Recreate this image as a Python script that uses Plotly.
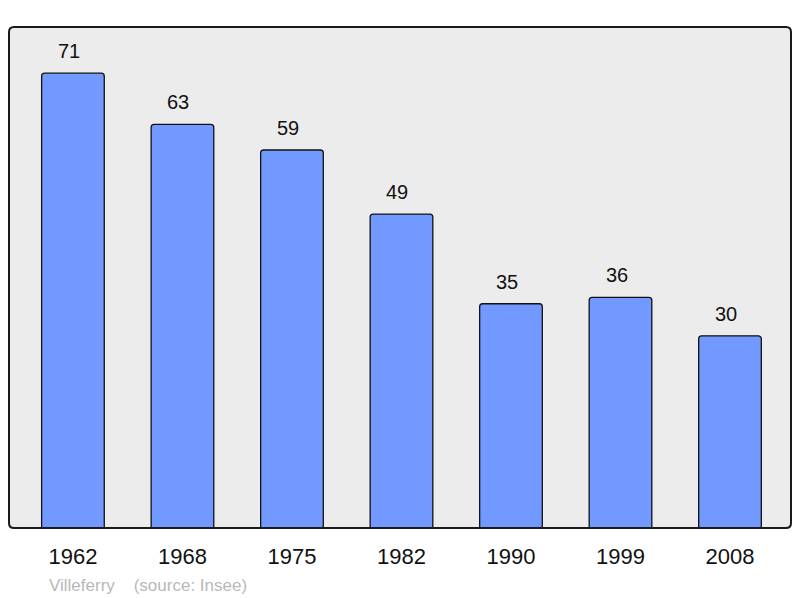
import plotly.graph_objects as go

years = ["1962", "1968", "1975", "1982", "1990", "1999", "2008"]
population = [71, 63, 59, 49, 35, 36, 30]
source_text = "Villeferry    (source: Insee)"

# page has an 8px body margin; figure sized so the plot lands where the reference has it
OFF = 8
W, H = 800 - OFF, 598 - OFF
ml, mr, mt, mb = 9 - OFF, 9, 27 - OFF, 70
FONT = "Liberation Sans, Arial, sans-serif"

fig = go.Figure()
fig.add_trace(go.Bar(
    x=list(range(len(years))), y=population,
    width=0.572,
    marker=dict(color="#7299ff", line=dict(color="#111111", width=1.3), cornerradius=3),
    hoverinfo="skip",
))

for i, v in enumerate(population):
    fig.add_annotation(x=i, y=v, text=str(v), showarrow=False, yshift=22, xshift=-4,
                       font=dict(size=20, color="#111111", family=FONT))

pw, ph = W - ml - mr, H - mt - mb
r = 5
rx, ry = r / pw, r / ph
path = (f"M {rx} 0 L {1-rx} 0 Q 1 0 1 {ry} L 1 {1-ry} Q 1 1 {1-rx} 1 "
        f"L {rx} 1 Q 0 1 0 {1-ry} L 0 {ry} Q 0 0 {rx} 0 Z")
fig.add_shape(type="path", path=path, xref="paper", yref="paper",
              line=dict(color="#1a1a1a", width=2), fillcolor="rgba(0,0,0,0)", layer="above")

fig.add_annotation(x=(47 - 9) / pw, y=(598 - 585 - mb) / ph, xref="paper", yref="paper",
                   text=source_text, showarrow=False, xanchor="left", yanchor="middle",
                   font=dict(size=17, color="#b8b8b8", family=FONT))

fig.update_layout(
    width=W, height=H,
    margin=dict(l=ml, r=mr, t=mt, b=mb),
    paper_bgcolor="white", plot_bgcolor="#ececec",
    showlegend=False,
    font=dict(family=FONT),
    xaxis=dict(range=[-0.584, 6.557], tickvals=list(range(len(years))), ticktext=years,
               showgrid=False, zeroline=False, ticks="", ticklabelstandoff=13,
               tickfont=dict(size=22, color="#111111")),
    yaxis=dict(range=[0, 78.2], showgrid=False, zeroline=False, showticklabels=False, ticks=""),
)

fig.write_html("out.html")
